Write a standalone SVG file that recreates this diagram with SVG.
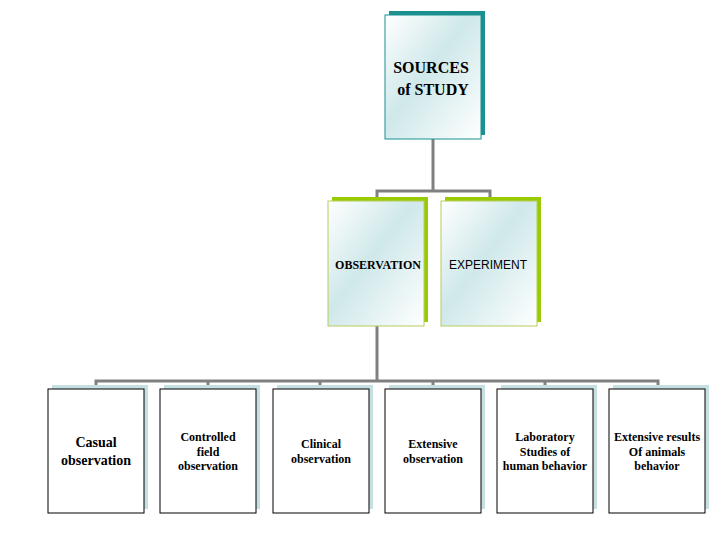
<svg xmlns="http://www.w3.org/2000/svg" width="720" height="540" viewBox="0 0 720 540">
<defs>
<linearGradient id="g" x1="0" y1="0" x2="1" y2="1">
<stop offset="0" stop-color="#ffffff"/><stop offset="0.45" stop-color="#cfe8ea"/><stop offset="1" stop-color="#ffffff"/>
</linearGradient>
<style>
.f{fill:url(#g)}
.t{font-family:'Liberation Serif','Times New Roman','DejaVu Serif',serif;font-weight:bold;text-anchor:middle;fill:#000}
.s{font-family:'Liberation Sans',Arial,sans-serif;font-weight:normal;text-anchor:middle;fill:#000}
.c{fill:none;stroke:#808080;stroke-width:3}
.b{fill:#fff;stroke:#000;stroke-width:1}
</style>
</defs>
<rect width="720" height="540" fill="#fff"/>
<g id="connectors">
<path class="c" d="M433,139V191M377,201V191H490V201"/>
<path class="c" d="M377,326V381M96,389V381H658V389M208,381V389M320,381V389M433,381V389M545,381V389"/>
</g>
<g id="sources">
<rect x="389" y="11" width="96" height="124" fill="#1a9090"/>
<rect x="385" y="15" width="96" height="124" class="f" stroke="#1a9090"/>
<text class="t" font-size="16"><tspan x="431" y="73">SOURCES</tspan><tspan x="433" y="95">of STUDY</tspan></text>
</g>
<g id="observation">
<rect x="332" y="197" width="96" height="125" fill="#99cc00"/>
<rect x="328" y="201" width="96" height="125" class="f" stroke="#b5cc60"/>
<text class="t" font-size="12" x="378" y="269">OBSERVATION</text>
</g>
<g id="experiment">
<rect x="445" y="197" width="96" height="125" fill="#99cc00"/>
<rect x="441" y="201" width="96" height="125" class="f" stroke="#b5cc60"/>
<text class="s" font-size="12" x="488" y="269">EXPERIMENT</text>
</g>
<g id="casual"><rect x="52" y="385" width="96" height="124" fill="#c5e0e2"/><rect x="48" y="389" width="96" height="124" class="b"/>
<text class="t" font-size="14"><tspan x="96" y="447">Casual</tspan><tspan x="96" y="465">observation</tspan></text></g>
<g id="controlled"><rect x="164" y="385" width="96" height="124" fill="#c5e0e2"/><rect x="160" y="389" width="96" height="124" class="b"/>
<text class="t" font-size="12"><tspan x="208" y="441">Controlled</tspan><tspan x="208" y="456">field</tspan><tspan x="208" y="470">observation</tspan></text></g>
<g id="clinical"><rect x="277" y="385" width="96" height="124" fill="#c5e0e2"/><rect x="273" y="389" width="96" height="124" class="b"/>
<text class="t" font-size="12"><tspan x="321" y="448">Clinical</tspan><tspan x="321" y="463">observation</tspan></text></g>
<g id="extensive"><rect x="389" y="385" width="96" height="124" fill="#c5e0e2"/><rect x="385" y="389" width="96" height="124" class="b"/>
<text class="t" font-size="12"><tspan x="433" y="448">Extensive</tspan><tspan x="433" y="463">observation</tspan></text></g>
<g id="laboratory"><rect x="501" y="385" width="96" height="124" fill="#c5e0e2"/><rect x="497" y="389" width="96" height="124" class="b"/>
<text class="t" font-size="12"><tspan x="545" y="441">Laboratory</tspan><tspan x="545" y="456">Studies of</tspan><tspan x="545" y="470">human behavior</tspan></text></g>
<g id="animals"><rect x="613" y="385" width="96" height="124" fill="#c5e0e2"/><rect x="609" y="389" width="96" height="124" class="b"/>
<text class="t" font-size="12"><tspan x="657" y="441">Extensive results</tspan><tspan x="657" y="456">Of animals</tspan><tspan x="657" y="470">behavior</tspan></text></g>
</svg>
